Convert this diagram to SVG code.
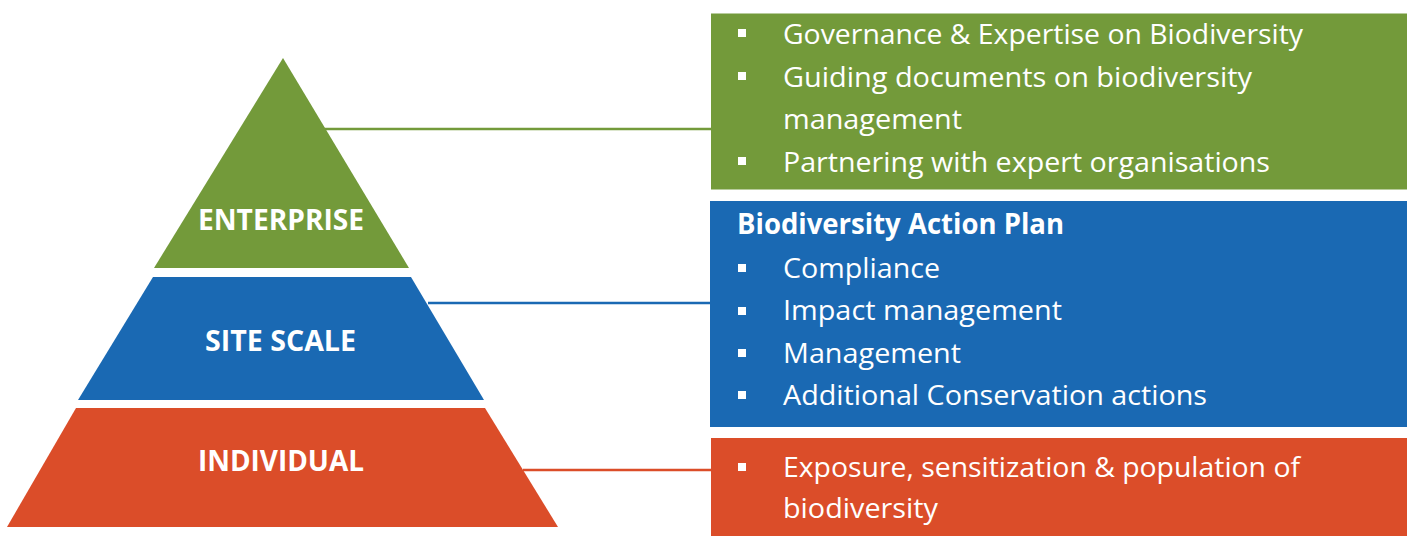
<svg xmlns="http://www.w3.org/2000/svg" width="1407" height="536" viewBox="0 0 1407 536">
  <style>
    .lbl { font-family: "Open Sans", "Noto Sans", sans-serif; font-weight: bold; font-size: 29px; fill: #ffffff; text-anchor: middle; }
    .txt { font-family: "Open Sans", "Noto Sans", sans-serif; font-size: 28px; fill: #ffffff; }
    .hd { font-family: "Open Sans", "Noto Sans", sans-serif; font-weight: bold; font-size: 28px; fill: #ffffff; }
    .bul { fill: #ffffff; }
    .green { fill: #739a3a; }
    .blue { fill: #1a69b3; }
    .red { fill: #db4d29; }
  </style>
  <rect width="1407" height="536" fill="#ffffff"/>

  <g id="connectors" stroke-width="2.5" fill="none">
    <line x1="295" y1="129" x2="711" y2="129" stroke="#739a3a"/>
    <line x1="428" y1="303" x2="710" y2="303" stroke="#1a69b3"/>
    <line x1="523" y1="470" x2="711" y2="470" stroke="#db4d29"/>
  </g>

  <g id="enterprise">
    <polygon class="green" points="283,58 409,268 154,268"/>
    <text class="lbl" x="281" y="230" textLength="166" lengthAdjust="spacingAndGlyphs">ENTERPRISE</text>
  </g>

  <g id="site-scale">
    <polygon class="blue" points="153,277 411,277 484,400 78,400"/>
    <text class="lbl" x="280.5" y="351" textLength="151" lengthAdjust="spacingAndGlyphs">SITE SCALE</text>
  </g>

  <g id="individual">
    <polygon class="red" points="76,408 485,408 558,527 7,527"/>
    <text class="lbl" x="281" y="471" textLength="166" lengthAdjust="spacingAndGlyphs">INDIVIDUAL</text>
  </g>

  <g id="enterprise-box">
    <rect class="green" x="711" y="13.5" width="696" height="176"/>
    <rect class="bul" x="738" y="29" width="8" height="8"/>
    <text class="txt" x="783" y="43.5" textLength="520" lengthAdjust="spacingAndGlyphs">Governance &amp; Expertise on Biodiversity</text>
    <rect class="bul" x="738" y="72" width="8" height="8"/>
    <text class="txt" x="783" y="86.5" textLength="469" lengthAdjust="spacingAndGlyphs">Guiding documents on biodiversity</text>
    <text class="txt" x="783" y="129" textLength="179" lengthAdjust="spacingAndGlyphs">management</text>
    <rect class="bul" x="738" y="157" width="8" height="8"/>
    <text class="txt" x="783" y="171.5" textLength="487" lengthAdjust="spacingAndGlyphs">Partnering with expert organisations</text>
  </g>

  <g id="site-scale-box">
    <rect class="blue" x="710" y="201" width="697" height="226"/>
    <text class="hd" x="737" y="234" textLength="327" lengthAdjust="spacingAndGlyphs">Biodiversity Action Plan</text>
    <rect class="bul" x="738" y="264" width="8" height="8"/>
    <text class="txt" x="783" y="277.5" textLength="157" lengthAdjust="spacingAndGlyphs">Compliance</text>
    <rect class="bul" x="738" y="307" width="8" height="8"/>
    <text class="txt" x="783" y="320" textLength="279" lengthAdjust="spacingAndGlyphs">Impact management</text>
    <rect class="bul" x="738" y="349" width="8" height="8"/>
    <text class="txt" x="783" y="362.5" textLength="178" lengthAdjust="spacingAndGlyphs">Management</text>
    <rect class="bul" x="738" y="391" width="8" height="8"/>
    <text class="txt" x="783" y="405" textLength="424" lengthAdjust="spacingAndGlyphs">Additional Conservation actions</text>
  </g>

  <g id="individual-box">
    <rect class="red" x="711" y="438" width="696" height="98"/>
    <rect class="bul" x="738" y="463" width="8" height="8"/>
    <text class="txt" x="783" y="476.5" textLength="517" lengthAdjust="spacingAndGlyphs">Exposure, sensitization &amp; population of</text>
    <text class="txt" x="783" y="518" textLength="155" lengthAdjust="spacingAndGlyphs">biodiversity</text>
  </g>
</svg>
